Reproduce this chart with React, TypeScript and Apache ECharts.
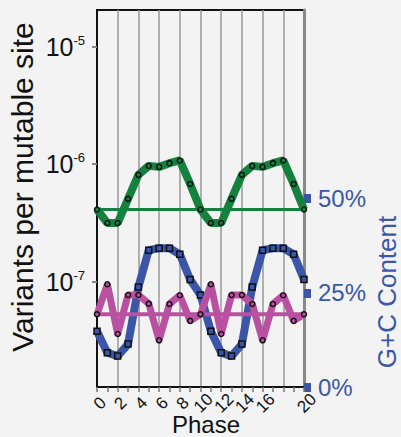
import React, { useEffect, useRef } from "react";
import * as echarts from "echarts";

const phases = [0, 1, 2, 3, 4, 5, 6, 7, 8, 9, 10, 11, 12, 13, 14, 15, 16, 17, 18, 19, 20];
const phaseLabels = [0, 2, 4, 6, 8, 10, 12, 14, 16, 18];
const phaseLastLabel = [20];
const greenRate = [4.11e-7, 3.16e-7, 3.16e-7, 5.07e-7, 8.11e-7, 9.67e-7, 9.48e-7, 1.02e-6, 1.075e-6, 6.79e-7, 4.11e-7,
  3.16e-7, 3.16e-7, 5.07e-7, 8.11e-7, 9.67e-7, 9.48e-7, 1.02e-6, 1.075e-6, 6.79e-7, 4.11e-7];
const greenMean = 4.11e-7;
const magentaRate = [5.28e-8, 9.5e-8, 3.59e-8, 7.7e-8, 7.7e-8, 6.5e-8, 3.17e-8, 6.46e-8, 7.66e-8, 4.64e-8, 5.28e-8,
  9.5e-8, 3.59e-8, 7.7e-8, 7.7e-8, 6.46e-8, 3.17e-8, 6.46e-8, 7.66e-8, 4.64e-8, 5.28e-8];
const magentaMean = 5.28e-8;
const gcContent = [14.8, 9.1, 8.2, 11.4, 26.5, 36.3, 36.8, 36.8, 35.2, 28.5, 24.4,
  14.8, 9.1, 8.2, 11.4, 26.5, 36.3, 36.8, 36.8, 35.2, 28.5];
const rightTicks = [0, 25, 50];

const GREEN = "#15813f";
const MAGENTA = "#b950a2";
const BLUE = "#3b56a8";
const FONT = "'Liberation Sans', Arial, sans-serif";

export default function App() {
  const ref = useRef<HTMLDivElement>(null);
  useEffect(() => {
    if (!ref.current) return;
    const chart = echarts.init(ref.current, null, { renderer: "svg" });
    const pairs = (arr: number[]) => phases.map((p, i) => [p, arr[i]]);
    const xLabelStyle = {
      rotate: 45, fontSize: 17, color: "#111", align: "center", verticalAlign: "middle", margin: 19,
      padding: [0, 0, 0, 8], hideOverlap: false, fontFamily: FONT,
    };
    chart.setOption({
      animation: false,
      backgroundColor: "#f2f3f2",
      textStyle: { fontFamily: FONT },
      grid: { left: 97, right: 97, top: 10, bottom: 50, show: true, borderColor: "#111", borderWidth: 2, backgroundColor: "transparent" },
      xAxis: [
        {
          type: "value", min: 0, max: 20, interval: 2, position: "bottom",
          axisLine: { onZero: false, lineStyle: { color: "#111", width: 2 } },
          axisTick: { show: true, length: 5, lineStyle: { color: "#777", width: 1.5 } },
          minorTick: { show: true, splitNumber: 2, length: 5, lineStyle: { color: "#777", width: 1.5 } },
          splitLine: { show: true, lineStyle: { color: "#999", width: 1.5 } },
          axisLabel: { ...xLabelStyle, customValues: phaseLabels },
        },
        {
          type: "value", min: 0, max: 20, interval: 2, position: "bottom",
          axisLine: { show: false, onZero: false }, axisTick: { show: false }, splitLine: { show: false },
          axisLabel: { ...xLabelStyle, customValues: phaseLastLabel, showMaxLabel: true },
        },
      ],
      yAxis: [
        {
          type: "log", logBase: 10, min: 1.27e-8, max: 2.05e-5, position: "left",
          axisLine: { show: true, onZero: false, lineStyle: { color: "#111", width: 2 } },
          axisTick: { show: true, length: 5, lineStyle: { color: "#888", width: 2 } },
          splitLine: { show: false },
          axisLabel: {
            showMinLabel: false, showMaxLabel: false, margin: 12, color: "#111",
            formatter: (v: number) => "{b|10}{s|" + Math.round(Math.log10(v)) + "}",
            rich: {
              b: { fontSize: 25, lineHeight: 26, fontFamily: FONT, color: "#111" },
              s: { fontSize: 13, lineHeight: 13, verticalAlign: "top", fontFamily: FONT, color: "#111" },
            },
          },
        },
        {
          type: "value", min: 0, max: 100, interval: 25, position: "right",
          axisLine: { show: true, onZero: false, lineStyle: { color: "#888", width: 3 } },
          axisTick: { show: true, customValues: rightTicks, length: 7, lineStyle: { color: BLUE, width: 9 } },
          splitLine: { show: false },
          axisLabel: { customValues: rightTicks, formatter: "{value}%", color: BLUE, fontSize: 24, margin: 14, fontFamily: FONT },
        },
      ],
      graphic: [
        { type: "text", x: 22, y: 187, rotation: Math.PI / 2, style: { text: "Variants per mutable site", fontSize: 30, fontFamily: FONT, fill: "#111", textAlign: "center", textVerticalAlign: "middle" } },
        { type: "text", x: 387, y: 292, rotation: Math.PI / 2, style: { text: "G+C Content", fontSize: 26, fontFamily: FONT, fill: BLUE, textAlign: "center", textVerticalAlign: "middle" } },
        { type: "text", x: 206, y: 424, style: { text: "Phase", fontSize: 24, fontFamily: FONT, fill: "#111", textAlign: "center", textVerticalAlign: "middle" } },
      ],
      series: [
        { type: "line", data: [[0, greenMean], [20, greenMean]], symbol: "none", lineStyle: { color: GREEN, width: 3 }, z: 2 },
        {
          type: "line", data: pairs(greenRate), symbol: "circle", symbolSize: 5,
          lineStyle: { color: GREEN, width: 8 }, itemStyle: { color: GREEN, borderColor: "#111", borderWidth: 1.5 }, z: 3,
        },
        {
          type: "line", yAxisIndex: 1, data: pairs(gcContent), symbol: "rect", symbolSize: 6,
          lineStyle: { color: BLUE, width: 8 }, itemStyle: { color: BLUE, borderColor: "#111", borderWidth: 1.5 }, z: 3,
        },
        { type: "line", data: [[0, magentaMean], [20, magentaMean]], symbol: "none", lineStyle: { color: MAGENTA, width: 4 }, z: 4 },
        {
          type: "line", data: pairs(magentaRate), symbol: "circle", symbolSize: 5,
          lineStyle: { color: MAGENTA, width: 7 }, itemStyle: { color: MAGENTA, borderColor: "#111", borderWidth: 1.5 }, z: 4,
        },
      ],
    });
    return () => chart.dispose();
  }, []);
  return <div ref={ref} style={{ position: "fixed", left: 0, top: 0, width: 401, height: 437 }} />;
}
